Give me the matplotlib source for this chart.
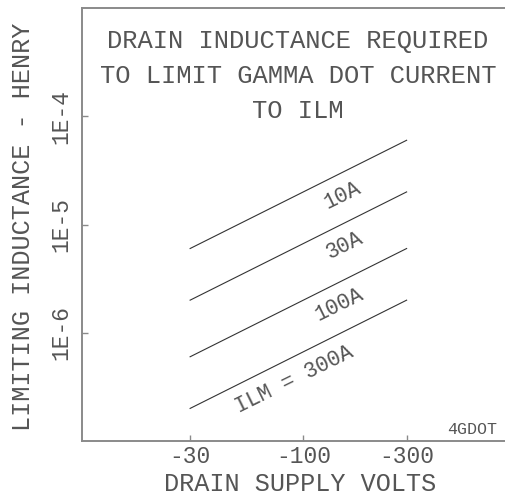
import matplotlib
matplotlib.use("Agg")
import matplotlib.pyplot as plt

# drain supply volts (magnitude) at the two ends of each line
volts = [30, 300]
currents = ["10A", "30A", "100A", "ILM = 300A"]
# limiting inductance in henry
ind_10a = [6e-6, 6e-5]
ind_30a = [2e-6, 2e-5]
ind_100a = [6e-7, 6e-6]
ind_300a = [2e-7, 2e-6]
series = [ind_10a, ind_30a, ind_100a, ind_300a]
# where along each line the label sits (volts)
label_volts = [152, 155, 147, 91]

xticks = [30, 100, 300]
xticklabels = ["-30", "-100", "-300"]
yticks = [1e-6, 1e-5, 1e-4]
yticklabels = ["1E-6", "1E-5", "1E-4"]

font = "Liberation Mono"
txt = "#555555"
gray = "#8a8a8a"

fig = plt.figure(figsize=(5.05, 4.95), dpi=100)
ax = fig.add_axes([82 / 505, 54 / 495, 433 / 505, 433 / 495])
ax.set_xscale("log")
ax.set_yscale("log")
ax.set_xlim(9.5, 950)
ax.set_ylim(1e-7, 1e-3)

for vals in series:
    ax.plot(volts, vals, color="#333333", lw=0.8)

for lab, v, vals in zip(currents, label_volts, series):
    y = vals[0] * v / volts[0]
    ax.annotate(lab, (v, y), xytext=(0, -16.5), textcoords="offset points",
                rotation=26.2, ha="center", va="center", fontsize=15.5,
                family=font, color=txt)

ax.set_xticks(xticks)
ax.set_xticklabels(xticklabels, family=font, fontsize=16.5, color=txt)
ax.set_yticks(yticks)
ax.set_yticklabels(yticklabels, family=font, fontsize=16.5, color=txt,
                   rotation=90, va="center")
ax.minorticks_off()
ax.tick_params(axis="both", direction="in", length=4, width=1, color=gray)
ax.tick_params(axis="x", pad=3)
ax.tick_params(axis="y", pad=7)

for s in ["left", "bottom", "top"]:
    ax.spines[s].set_color(gray)
    ax.spines[s].set_linewidth(1.4)
ax.spines["right"].set_visible(False)

title = ["DRAIN INDUCTANCE REQUIRED", "TO LIMIT GAMMA DOT CURRENT", "TO ILM"]
for i, line in enumerate(title):
    fig.text(298 / 505, 1 - (41 + 35 * i) / 495, line, ha="center", va="center",
             family=font, fontsize=18.4, color=txt)

fig.text(23 / 505, 1 - 227 / 495, "LIMITING INDUCTANCE - HENRY", rotation=90,
         ha="center", va="center", family=font, fontsize=18.2, color=txt)
fig.text(300 / 505, 1 - 484 / 495, "DRAIN SUPPLY VOLTS", ha="center", va="center",
         family=font, fontsize=18.2, color=txt)
fig.text(497 / 505, 1 - 430 / 495, "4GDOT", ha="right", va="center",
         family=font, fontsize=12, color=txt)

fig.savefig("out.png", dpi=100)
